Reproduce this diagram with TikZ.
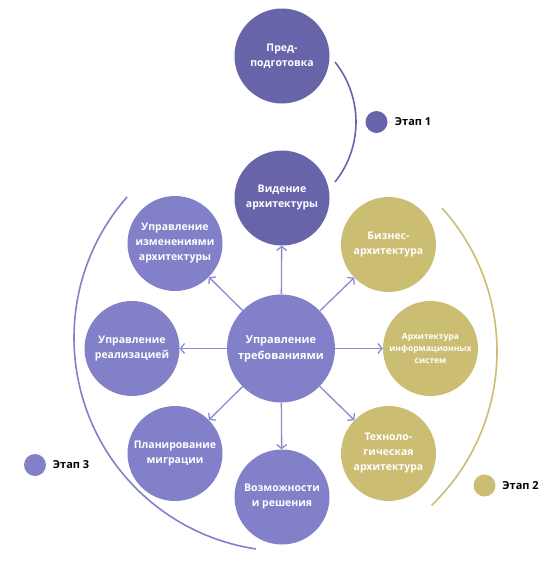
\documentclass[tikz,border=0pt]{standalone}
\usepackage{fontspec}
\setmainfont{Open Sans}
\usetikzlibrary{arrows.meta}
\definecolor{dkp}{HTML}{6764AA}
\definecolor{ltp}{HTML}{8280C8}
\definecolor{olv}{HTML}{CBBD72}
\definecolor{arr}{HTML}{8C89D2}
\begin{document}
\begin{tikzpicture}[x=1pt,y=-1pt,
  bub/.style={circle, minimum size=95pt, inner sep=0pt, align=center, text=white,
    font=\bfseries\fontsize{10.5}{15}\selectfont},
  arrline/.style={draw=arr, line width=1.3pt, -{Straight Barb[length=4pt,width=10pt]}},
  stagearc/.style={line width=1.6pt},
  legdot/.style={circle, minimum size=22pt, inner sep=0pt},
  legtxt/.style={anchor=west, inner sep=0pt, font=\bfseries\fontsize{11}{13}\selectfont}]
\useasboundingbox (0,0) rectangle (559,563);

% stage arcs
\draw[stagearc, draw=dkp] (259.8,122) ++(-38.6:96.2) arc[start angle=-38.6, end angle=38.6, radius=96.2];
\draw[stagearc, draw=olv] (283,351.3) ++(-42:214) arc[start angle=-42, end angle=46, radius=214];
\draw[stagearc, draw=ltp] (287.5,337.8) ++(-138.7:213.5) arc[start angle=-138.7, end angle=-261.5, radius=213.5];

% circles
\node[bub, fill=dkp] (pre) at (282,56) {Пред-\\подготовка};
\node[bub, fill=dkp] (vis) at (282,198) {Видение\\архитектуры};
\node[bub, fill=ltp] (chg) at (175,243.5) {Управление\\изменениями\\архитектуры};
\node[bub, fill=olv] (biz) at (388.5,244.5) {Бизнес-\\архитектура};
\node[bub, fill=ltp] (real) at (132,348.5) {Управление\\реализацией};
\node[bub, fill=ltp, minimum size=108pt, font=\bfseries\fontsize{11}{16}\selectfont] (ctr) at (281,348.5) {Управление\\требованиями};
\node[bub, fill=olv, font=\bfseries\fontsize{8.5}{12}\selectfont] (info) at (430.5,348.5) {Архитектура\\информационных\\систем};
\node[bub, fill=ltp] (mig) at (175,453.5) {Планирование\\миграции};
\node[bub, fill=olv] (tech) at (388.5,453.5) {Техноло-\\гическая\\архитектура};
\node[bub, fill=ltp] (cap) at (282,497) {Возможности\\и решения};

% arrows
\foreach \t in {vis,chg,biz,real,info,mig,tech,cap}
  \draw[arrline] (ctr) -- (\t);

% legend
\node[legdot, fill=dkp] (d1) at (376.5,122) {};
\node[legtxt] (l1) at ([xshift=7pt]d1.east) {Этап 1};
\node[legdot, fill=olv] (d2) at (484.5,485.5) {};
\node[legtxt] (l2) at ([xshift=6.5pt]d2.east) {Этап 2};
\node[legdot, fill=ltp] (d3) at (35,465) {};
\node[legtxt] (l3) at ([xshift=6.5pt]d3.east) {Этап 3};
\end{tikzpicture}
\end{document}
